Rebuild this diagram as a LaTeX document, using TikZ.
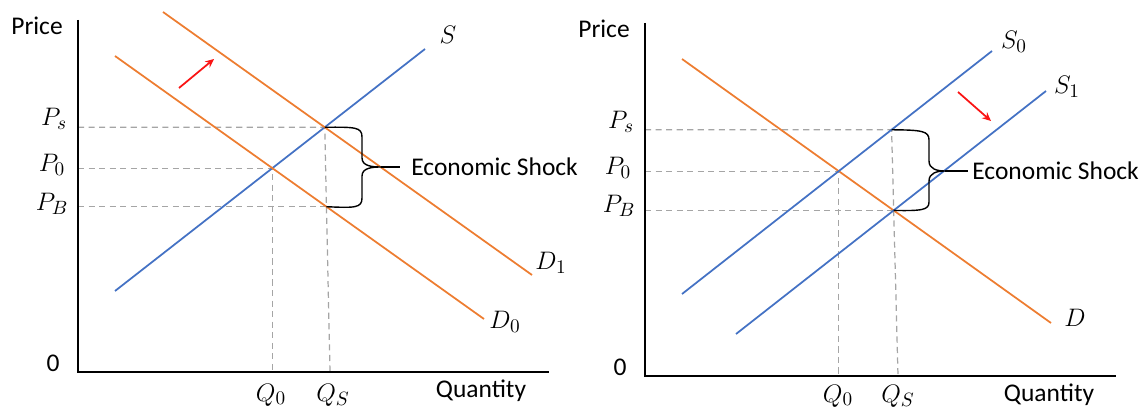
\documentclass[tikz,border=0pt]{standalone}
\usepackage{fontspec}
\setmainfont{Carlito}
\usetikzlibrary{arrows.meta}
\definecolor{demand}{RGB}{237,125,49}
\definecolor{supply}{RGB}{68,114,196}
\definecolor{guide}{RGB}{165,165,165}
\definecolor{shiftred}{RGB}{250,20,20}
\begin{document}
\begin{tikzpicture}[
  x=0.02cm, y=-0.02cm,
  every node/.style={inner sep=0pt, font=\fontsize{14.5}{17}\selectfont},
  mathlabel/.style={font=\fontsize{15}{17}\selectfont},
  axis/.style={line width=1.5pt},
  demandline/.style={demand, line width=1pt},
  supplyline/.style={supply, line width=1pt},
  guideline/.style={guide, line width=0.7pt, dash pattern=on 3.5pt off 2.5pt},
  shiftarrow/.style={shiftred, line width=1pt, -{Stealth[length=5pt, width=4.5pt]}},
  bracket/.style={black, line width=0.8pt}
]
  \useasboundingbox (0,0) rectangle (1141,408);

  % left: demand shift
  \coordinate (o1) at (78,372);
  \coordinate (ytop1) at (78,20);
  \coordinate (xend1) at (549,372);
  \coordinate (sA) at (115,291);
  \coordinate (sB) at (425,49);
  \coordinate (dzA) at (115,56);
  \coordinate (dzB) at (484,319);
  \coordinate (doA) at (163,12);
  \coordinate (doB) at (532,275);
  \coordinate (qs1) at (330,372);
  \coordinate (e01) at (intersection of sA--sB and dzA--dzB);
  \coordinate (es1) at (intersection of sA--sB and doA--doB);
  \coordinate (eb1) at (intersection of dzA--dzB and es1--qs1);
  \coordinate (q01) at (e01 |- o1);
  \coordinate (tip1) at (381,167);

  \draw[guideline] (ytop1 |- es1) -- (es1) -- (qs1);
  \draw[guideline] (ytop1 |- e01) -- (e01) -- (q01);
  \draw[guideline] (ytop1 |- eb1) -- (eb1);

  \draw[supplyline] (sA) -- (sB);
  \draw[demandline] (dzA) -- (dzB);
  \draw[demandline] (doA) -- (doB);
  \draw[axis] (ytop1) -- (o1) -- (xend1);
  \draw[shiftarrow] (179,88) -- (214,59);

  \node (price1) at (37,26) {Price};
  \node (zero1) at (53,363) {0};
  \node (qty1) at (481,391) {Quantity};
  \node[mathlabel] (slab) at (448,35) {$S$};
  \node[mathlabel] (d1lab) at (551,263) {$D_1$};
  \node[mathlabel] (d0lab) at (505,322) {$D_0$};
  \node[mathlabel] (ps1) at (54,119) {$P_s$};
  \node[mathlabel] (p01) at (52,165) {$P_0$};
  \node[mathlabel] (pb1) at (52,204) {$P_B$};
  \node[mathlabel] (q0lab1) at (271,395) {$Q_0$};
  \node[mathlabel] (qslab1) at (333,395) {$Q_S$};

  \draw[bracket] (es1) .. controls (355,127) and (362,127) .. (362,137) -- (362,158)
    .. controls (362,166) and (372,167) .. (tip1)
    .. controls (372,167) and (362,168) .. (362,176) -- (362,198)
    .. controls (362,208) and (355,208) .. (eb1);
  \node[anchor=west, inner xsep=0.22cm] (shock1) at (400,167) {Economic Shock};
  \draw[bracket] (tip1) -- (shock1);

  % right: supply shift
  \coordinate (o2) at (645,376);
  \coordinate (ytop2) at (645,23);
  \coordinate (xend2) at (1116,376);
  \coordinate (szA) at (682,294);
  \coordinate (szB) at (992,51);
  \coordinate (soA) at (736,334);
  \coordinate (soB) at (1046,91);
  \coordinate (dA) at (682,59);
  \coordinate (dB) at (1051,323);
  \coordinate (qs2) at (898,376);
  \coordinate (e02) at (intersection of szA--szB and dA--dB);
  \coordinate (eb2) at (intersection of soA--soB and dA--dB);
  \coordinate (es2) at (intersection of szA--szB and eb2--qs2);
  \coordinate (q02) at (e02 |- o2);
  \coordinate (tip2) at (945,171);

  \draw[guideline] (ytop2 |- es2) -- (es2) -- (qs2);
  \draw[guideline] (ytop2 |- e02) -- (e02) -- (q02);
  \draw[guideline] (ytop2 |- eb2) -- (eb2);

  \draw[demandline] (dA) -- (dB);
  \draw[supplyline] (szA) -- (szB);
  \draw[supplyline] (soA) -- (soB);
  \draw[axis] (ytop2) -- (o2) -- (xend2);
  \draw[shiftarrow] (958,92) -- (991,121);

  \node (price2) at (604,29) {Price};
  \node (zero2) at (620,367) {0};
  \node (qty2) at (1049,395) {Quantity};
  \node[mathlabel] (s0lab) at (1014,42) {$S_0$};
  \node[mathlabel] (s1lab) at (1067,87) {$S_1$};
  \node[mathlabel] (dlab) at (1075,318) {$D$};
  \node[mathlabel] (ps2) at (621,122) {$P_s$};
  \node[mathlabel] (p02) at (618,168) {$P_0$};
  \node[mathlabel] (pb2) at (619,206) {$P_B$};
  \node[mathlabel] (q0lab2) at (838,396) {$Q_0$};
  \node[mathlabel] (qslab2) at (898,396) {$Q_S$};

  \draw[bracket] (es2) .. controls (922,130) and (929,131) .. (929,140) -- (929,161)
    .. controls (929,169) and (937,171) .. (tip2)
    .. controls (937,171) and (929,173) .. (929,181) -- (929,202)
    .. controls (929,210) and (922,211) .. (eb2);
  \node[anchor=west, inner xsep=0.08cm] (shock2) at (968,171) {Economic Shock};
  \draw[bracket] (tip2) -- (shock2);
\end{tikzpicture}
\end{document}
